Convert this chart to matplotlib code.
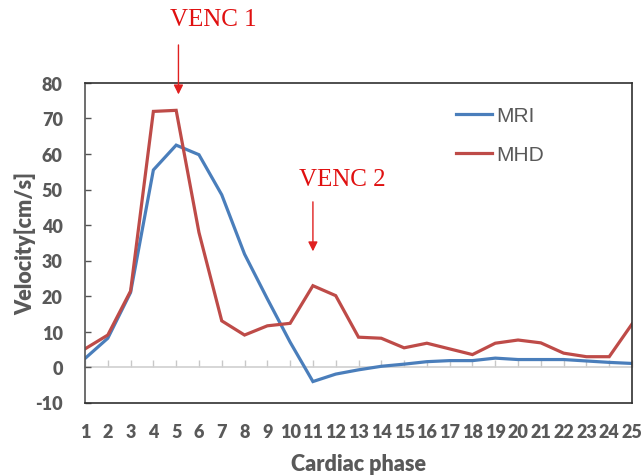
import matplotlib
matplotlib.use("Agg")
import matplotlib.pyplot as plt

plt.rcParams["axes.unicode_minus"] = False

phases = list(range(1, 26))
mri = [2.4, 8.1, 21.0, 55.5, 62.5, 59.8, 48.5, 31.8, 19.2, 7.0, -4.1, -2.0, -0.8, 0.2, 0.8,
       1.5, 1.8, 1.8, 2.5, 2.1, 2.1, 2.1, 1.7, 1.3, 1.0]
mhd = [5.1, 9.0, 21.4, 72.0, 72.3, 37.9, 13.0, 9.0, 11.6, 12.3, 22.9, 20.1, 8.4, 8.1, 5.4,
       6.7, 5.1, 3.5, 6.7, 7.6, 6.8, 3.9, 2.9, 2.9, 12.1]
yticks = list(range(-10, 81, 10))
series_labels = ["MRI", "MHD"]
venc_labels = ["VENC 1", "VENC 2"]
venc_phase = [5.1, 11]

GRAY = "#595959"
BLUE = "#4a7ebb"
RED = "#be4b48"

fig = plt.figure(figsize=(6.41, 4.77), dpi=100)
ax = fig.add_axes([85/641, 1-403.5/477, (632-85)/641, (403.5-84)/477])

ax.plot(phases, mri, color=BLUE, lw=2.3, label=series_labels[0], solid_joinstyle="miter")
ax.plot(phases, mhd, color=RED, lw=2.3, label=series_labels[1], solid_joinstyle="miter")

ax.set_xlim(1, 25)
ax.set_ylim(-10, 80)
ax.set_yticks(yticks)
ax.set_xticks(phases)
ax.set_xticklabels([str(p) for p in phases])

for s in ax.spines.values():
    s.set_color("#303030")
    s.set_linewidth(1.2)
ax.spines["left"].set_color("#555555")

ax.tick_params(axis="y", direction="in", length=4, width=1, color="#555555",
               pad=16, labelcolor=GRAY, labelsize=13)
ax.tick_params(axis="x", length=0, pad=15, labelcolor=GRAY, labelsize=13)
for lbl in ax.get_xticklabels() + ax.get_yticklabels():
    lbl.set_fontfamily("Lato")
    lbl.set_fontweight("heavy")

# category axis at zero
sec = ax.secondary_xaxis(10/90)
sec.spines["bottom"].set_color("#d0d0d0")
sec.spines["bottom"].set_linewidth(1.2)
sec.set_xticks(phases)
sec.set_xticklabels([])
sec.tick_params(direction="in", length=5, color="#c8c8c8", width=1)

ax.set_ylabel("Velocity[cm/s]", fontsize=15.5, color=GRAY, fontweight="heavy",
              fontfamily="Lato", labelpad=-1)
ax.set_xlabel("Cardiac phase", fontsize=15.5, color=GRAY, fontweight="heavy",
              fontfamily="Lato", labelpad=9)

leg = ax.legend(loc="upper left", bbox_to_anchor=(446/641, 1-97/477),
                bbox_transform=fig.transFigure, frameon=False, borderpad=0,
                handlelength=1.7, handletextpad=0.2, labelspacing=0.95,
                prop={"family": "Liberation Sans", "size": 15})
for t in leg.get_texts():
    t.set_color(GRAY)

# VENC annotations
ax.annotate("", xy=(venc_phase[0], 76), xytext=(venc_phase[0], 91.5),
            arrowprops=dict(arrowstyle="-|>", color="#e02020", lw=1, mutation_scale=14),
            annotation_clip=False)
ax.text(6.65, 98, venc_labels[0], color="#e01010", fontsize=18, fontfamily="Liberation Serif",
        ha="center", va="center", clip_on=False)
ax.annotate("", xy=(venc_phase[1], 31.8), xytext=(venc_phase[1], 47.3),
            arrowprops=dict(arrowstyle="-|>", color="#e02020", lw=1, mutation_scale=14),
            annotation_clip=False)
ax.text(12.3, 53.0, venc_labels[1], color="#e01010", fontsize=18, fontfamily="Liberation Serif",
        ha="center", va="center")

fig.savefig("out.png", dpi=100)
